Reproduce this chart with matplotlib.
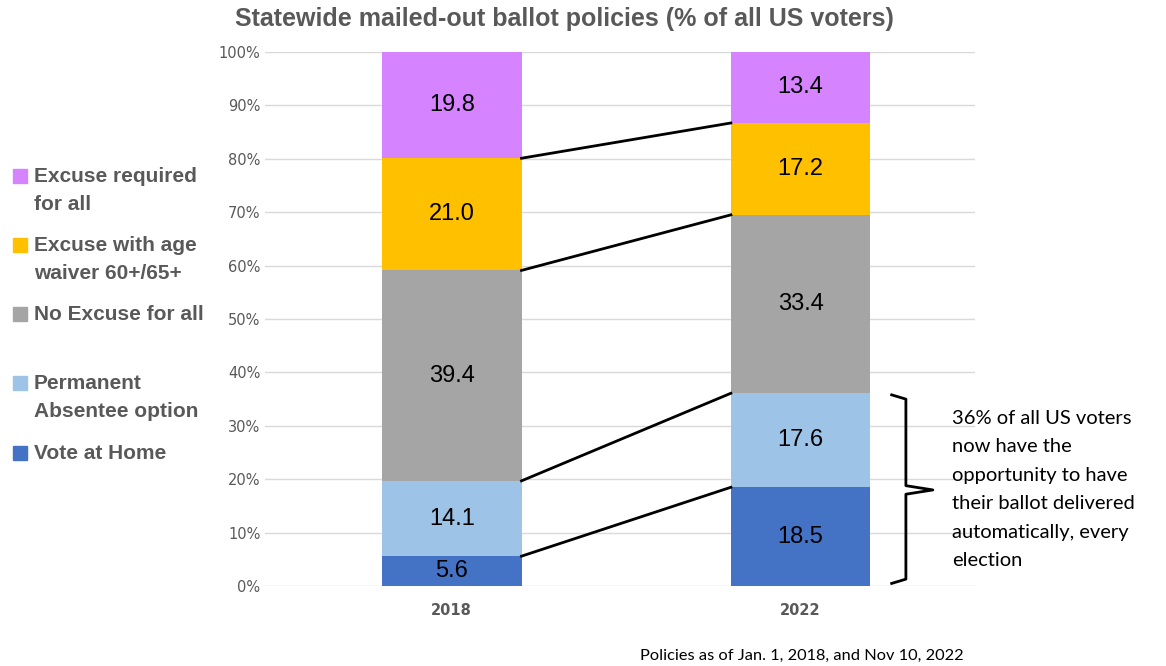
import numpy as np
import matplotlib.pyplot as plt
from matplotlib.transforms import blended_transform_factory

years = ['2018', '2022']
policies = ['Vote at Home', 'Permanent\nAbsentee option', 'No Excuse for all',
            'Excuse with age\nwaiver 60+/65+', 'Excuse required\nfor all']
vote_home = [5.6, 18.5]
permanent = [14.1, 17.6]
no_excuse = [39.4, 33.4]
age_waiver = [21.0, 17.2]
excuse_req = [19.8, 13.4]
colors = ['#4472C4', '#9DC3E6', '#A5A5A5', '#FFC000', '#D683FF']

series = [vote_home, permanent, no_excuse, age_waiver, excuse_req]

fig = plt.figure(figsize=(11.66, 6.66), dpi=100)
ax = fig.add_axes([0.227, 0.120, 0.609, 0.802])

x = np.arange(len(years))
w = 0.40
bottom = np.zeros(len(years))
tops = []
for vals, c in zip(series, colors):
    vals = np.array(vals)
    ax.bar(x, vals, w, bottom=bottom, color=c, zorder=2)
    for xi, b, v in zip(x, bottom, vals):
        ax.text(xi, b + v / 2, f'{v:.1f}', ha='center', va='center', fontsize=17,
                family='Liberation Sans', zorder=3)
    bottom = bottom + vals
    tops.append(bottom.copy())

# connector lines between segment tops (skip the 100% top)
for t in tops[:-1]:
    ax.plot([x[0] + w / 2, x[1] - w / 2], [t[0], t[1]], color='black', lw=2, zorder=3)

ax.set_xlim(-0.536, 1.499)
ax.set_ylim(0, 100)
ax.set_yticks(np.arange(0, 101, 10))
ax.set_yticklabels([f'{v}%' for v in range(0, 101, 10)], color='#595959', fontsize=10.5)
ax.set_xticks(x)
ax.set_xticklabels(years, color='#595959', fontsize=10.5, fontweight='bold')
ax.tick_params(length=0, pad=3)
ax.tick_params(axis='x', pad=12)
ax.grid(axis='y', color='#D9D9D9', lw=1, zorder=0)
for s in ax.spines.values():
    s.set_visible(False)

fig.text(0.484, 0.972, 'Statewide mailed-out ballot policies (% of all US voters)',
         ha='center', va='center', fontsize=18, fontweight='bold', color='#595959',
         family='Liberation Sans')

# legend drawn manually
leg_y = [453, 383, 314, 245, 176]
for lab, c, yy in zip(policies, colors, leg_y):
    fig.patches.append(plt.Rectangle((13 / 1166, 1 - (yy + 7) / 666), 14 / 1166, 14 / 666,
                                     transform=fig.transFigure, color=c))
    fig.text(34 / 1166, 1 - (yy - 9) / 666, lab, ha='left', va='top', fontsize=15,
             fontweight='bold', color='#595959', linespacing=1.6,
             family='Liberation Sans')

# brace for the 36% annotation
tr = blended_transform_factory(ax.transAxes, ax.transData)
y0, y1 = 0.5, tops[1][1] - 0.3
ym = tops[0][1] - 0.5
xa, xb, xc = 0.883, 0.903, 0.941
bx = [xa, xb, xb, xc, xb, xb, xa]
by = [y1, y1 - 0.8, ym + 0.8, ym, ym - 0.8, y0 + 0.8, y0]
ax.plot(bx, by, color='black', lw=2, transform=tr, clip_on=False)

ax.text(0.968, 33.0, '36% of all US voters\nnow have the\nopportunity to have\ntheir ballot delivered\n'
        'automatically, every\nelection', transform=tr, ha='left', va='top', fontsize=14.5,
        linespacing=1.82, family=['Lato', 'DejaVu Sans'])

fig.text(640 / 1166, 1 - 656 / 666, 'Policies as of Jan. 1, 2018, and Nov 10, 2022',
         ha='left', va='center', fontsize=11.8, family=['Lato', 'DejaVu Sans'])

plt.savefig('out.png', dpi=100)
